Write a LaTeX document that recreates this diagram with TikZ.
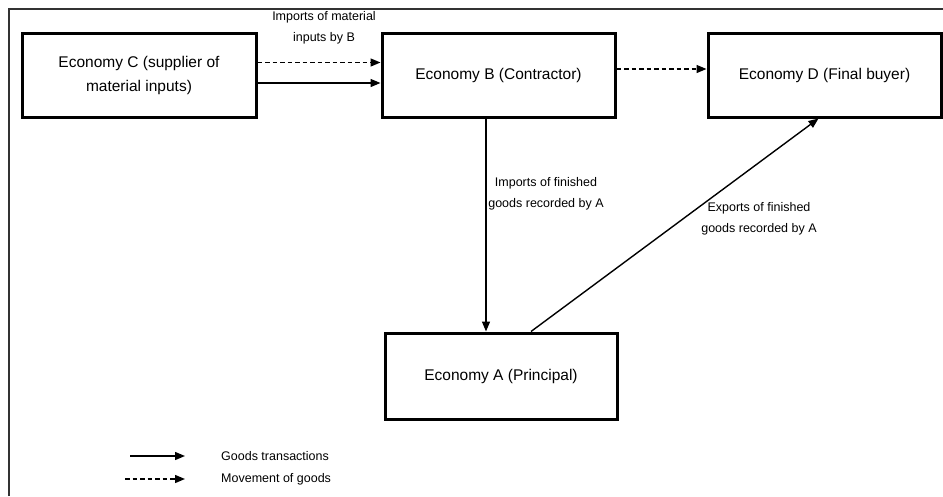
\documentclass[tikz,border=0pt]{standalone}
\usepackage{fontspec}
\setmainfont{Liberation Sans}
\usetikzlibrary{positioning}
\usetikzlibrary{arrows.meta}
\tikzset{
    economy/.style = {rectangle, draw, line width=3pt, minimum width=233pt, minimum height=84pt,
        inner sep=0pt, align=center, font=\fontsize{15.5}{24}\selectfont},
    note/.style = {align=center, inner sep=0pt, font=\fontsize{12.5}{21}\selectfont},
    goods/.style = {-{Triangle[length=10pt,width=8pt]}, line width=1.4pt},
    moves/.style = {goods, dash pattern=on 4.5pt off 3pt}}

\begin{document}
\begin{tikzpicture}[x=1pt, y=-1pt, node distance=301pt and 359.5pt, on grid]
    \useasboundingbox (0,0) rectangle (943,496);
    \draw[line width=1.4pt, black!80] (9,496) -- (9,9) -- (943,9);
    \node[economy, minimum width=234pt] (C) at (139,75) {Economy C (supplier of\\material inputs)};
    \node[economy] (B) [right = of C] {Economy B (Contractor)};
    \node[economy] (D) [right = 326pt of B] {Economy D (Final buyer)};
    \node[economy, minimum width=232pt, minimum height=86pt] (A) [below right = 301pt and 2.5pt of B] {Economy A (Principal)};
    \draw[moves] ([yshift=12.5pt]C.east) -- ([yshift=12.5pt]B.west);
    \draw[goods] ([yshift=-8pt]C.east) -- ([yshift=-8pt]B.west);
    \draw[moves] ([yshift=6pt]B.east) -- ([yshift=6pt]D.west);
    \draw[goods] ([xshift=-12.5pt]B.south) -- ([xshift=-15pt]A.north);
    \draw[goods] ([xshift=30pt]A.north) -- ([xshift=-6pt]D.south);
    \node[note] (IM) at (324,28) {Imports of material\\inputs by B};
    \node[note] (IF) at (546,194) {Imports of finished\\goods recorded by A};
    \node[note] (EF) at (759,219) {Exports of finished\\goods recorded by A};
    % legend
    \coordinate (g1) at (130,456);
    \coordinate (g2) at (185,456);
    \coordinate (m1) at (125,479);
    \coordinate (m2) at (185,479);
    \draw[goods] (g1) -- (g2);
    \draw[moves] (m1) -- (m2);
    \node[note, anchor=west] (Lg) at (221,456) {Goods transactions};
    \node[note, anchor=west] (Lm) at (221,479) {Movement of goods};
\end{tikzpicture}
\end{document}
